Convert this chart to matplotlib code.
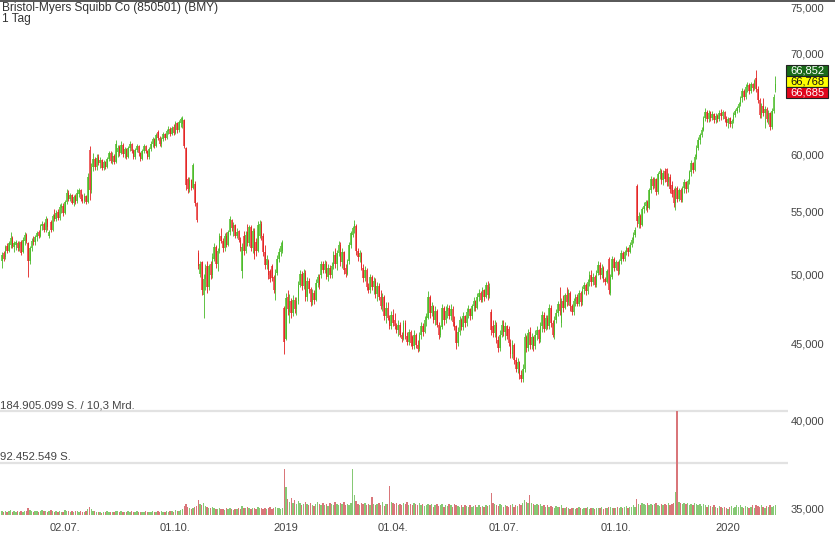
import matplotlib
matplotlib.use("Agg")
import matplotlib.pyplot as plt
from matplotlib.patches import Rectangle
from matplotlib.lines import Line2D

plt.rcParams['font.family'] = ['Liberation Sans', 'DejaVu Sans']

title = "Bristol-Myers Squibb Co (850501) (BMY)"
subtitle = "1 Tag"

opens = [51.0,51.6,51.3,52.2,51.8,52.3,52.8,52.1,52.3,52.4,52.0,52.5,51.7,52.6,53.1,52.4,51.0,52.0,52.7,52.5,
52.9,53.3,53.0,53.8,54.0,53.5,54.4,53.0,54.1,53.5,54.7,54.4,55.0,54.5,55.3,55.5,54.9,55.8,56.6,56.1,
56.4,55.7,56.3,55.9,56.5,56.8,56.1,55.9,56.3,55.8,60.4,56.8,58.9,59.6,58.9,59.8,59.2,59.5,58.8,59.3,
58.9,59.6,60.1,59.4,59.9,59.3,60.2,60.7,60.1,60.9,60.0,60.5,59.8,60.6,61.0,60.3,59.8,60.4,60.8,60.1,
59.6,60.3,60.8,60.3,59.8,60.5,61.0,61.4,60.8,62.1,61.5,61.0,61.4,61.9,61.5,62.2,62.4,61.9,62.6,62.0,
62.9,62.3,62.9,62.8,63.2,60.6,57.8,56.9,57.7,57.0,57.4,55.7,51.6,50.0,50.9,48.4,49.6,50.6,49.0,50.8,
49.9,51.2,52.1,50.8,51.8,53.0,52.6,52.0,53.0,52.3,53.3,54.3,53.6,53.9,53.0,53.4,52.7,50.2,53.0,51.8,
53.3,52.4,53.7,52.0,53.4,52.5,51.8,53.0,54.0,53.0,51.7,50.7,51.0,50.2,50.6,49.8,48.8,50.1,51.2,51.7,
51.8,47.5,45.3,48.3,47.2,48.0,47.1,48.1,47.4,48.0,49.2,50.0,49.1,50.1,48.3,49.5,48.9,47.9,48.6,48.1,
49.3,49.8,49.9,50.8,50.3,50.8,49.8,50.5,49.9,50.6,51.5,50.8,51.6,52.3,50.9,51.7,50.5,50.0,51.0,52.3,
53.1,53.6,53.8,51.8,51.3,51.6,50.5,49.7,50.3,49.0,48.8,49.8,49.0,49.5,48.5,49.1,48.3,47.6,48.3,46.9,
47.5,46.8,46.2,47.0,46.6,46.2,45.9,46.3,45.6,45.3,46.4,45.5,45.1,45.8,45.4,44.8,45.6,44.9,44.6,45.6,
46.2,45.8,46.6,46.8,48.3,47.1,47.6,46.6,47.3,46.3,45.6,46.1,47.5,46.6,47.3,47.5,46.9,47.4,46.5,46.2,
45.0,45.8,46.6,46.1,46.9,46.4,47.2,47.4,46.9,47.6,48.0,47.5,48.3,48.6,48.1,48.8,48.3,49.2,48.4,47.2,
46.2,45.7,46.3,45.2,44.7,45.6,46.3,45.8,46.2,46.0,45.0,44.3,44.9,43.9,43.3,43.7,42.9,42.6,43.3,45.4,
44.7,45.8,44.9,45.4,44.8,45.6,45.9,45.3,46.2,47.0,46.0,46.8,46.2,47.5,46.4,45.6,46.6,47.1,47.8,46.4,
48.0,47.5,48.4,47.9,48.6,47.6,47.2,48.0,48.3,47.8,48.6,47.9,48.9,49.2,48.7,49.4,49.9,49.4,49.8,49.2,
50.1,50.7,49.9,50.5,49.6,49.4,51.2,48.6,49.8,51.2,50.5,50.9,50.2,51.0,51.6,51.2,51.7,52.0,51.7,52.3,
52.7,53.1,57.2,54.0,54.6,53.9,55.2,55.5,55.8,55.3,56.8,57.8,57.2,57.8,56.7,58.2,58.5,57.7,58.5,58.7,
57.5,58.0,57.3,56.8,55.7,57.0,56.1,56.8,56.0,57.0,57.5,56.9,57.6,58.4,59.2,58.6,59.8,60.6,61.3,61.8,
62.3,63.4,64.0,63.3,64.0,63.4,63.8,63.2,63.6,63.3,63.9,63.6,64.0,63.3,62.9,63.4,62.8,63.1,63.7,64.1,
64.4,64.8,65.4,66.1,65.5,66.5,66.7,66.1,66.8,66.4,67.4,66.3,65.2,63.7,64.6,63.9,64.3,63.3,63.9,62.6,
64.1,66.2]

highs = [51.7,51.8,52.3,52.4,52.6,53.3,53.0,52.6,52.7,52.6,52.6,52.7,52.9,53.3,53.2,52.5,52.2,52.8,53.0,53.1,
53.4,53.5,54.0,54.2,54.1,54.6,54.5,53.5,54.3,54.8,55.2,55.1,55.2,55.6,55.7,55.7,56.0,56.9,56.8,56.6,
56.5,56.4,56.5,56.9,57.0,56.9,56.5,56.6,56.4,58.3,60.8,59.2,60.1,59.8,60.0,60.0,59.8,59.6,59.5,59.4,
59.8,60.3,60.3,60.2,60.0,61.3,60.9,60.9,61.2,61.1,60.7,60.6,60.8,61.2,61.1,60.5,60.6,61.0,60.9,60.2,
60.5,61.0,60.9,60.4,60.7,61.2,61.6,61.5,62.0,62.3,61.7,61.6,62.1,62.0,62.4,62.7,62.6,62.7,62.8,63.1,
63.0,63.2,63.5,63.6,63.3,60.7,58.0,58.0,57.8,59.2,57.6,55.8,51.9,51.0,51.0,50.0,50.8,51.0,50.8,51.0,
51.6,52.4,52.3,52.0,53.2,53.6,52.8,53.2,53.3,53.5,54.6,54.4,54.1,54.0,53.6,53.5,52.9,52.4,53.4,53.4,
54.0,53.9,53.9,53.6,53.6,52.8,54.2,54.3,54.2,53.2,52.3,51.5,51.2,50.4,50.8,49.9,50.4,51.5,52.0,52.5,
52.7,47.6,48.6,48.8,48.5,48.2,48.4,48.3,48.3,49.5,50.3,50.2,50.4,50.3,49.8,49.7,49.0,48.9,48.8,49.6,
50.0,50.0,51.0,51.0,51.1,51.0,50.8,50.7,50.9,51.8,52.0,51.9,52.6,52.5,52.0,51.8,50.8,51.2,52.5,53.4,
53.8,54.3,54.0,52.0,51.9,51.7,50.8,50.6,50.5,49.3,50.0,49.9,49.8,49.7,49.4,49.3,48.8,48.6,48.4,47.9,
47.9,47.0,47.3,47.4,47.1,46.4,46.6,46.5,45.8,46.6,46.6,45.8,46.0,45.9,45.6,45.9,45.7,45.2,45.8,46.5,
46.4,46.9,47.1,48.7,48.4,47.9,47.7,47.6,47.4,46.5,46.3,47.8,47.6,47.6,47.8,47.7,47.8,47.6,46.9,46.3,
46.1,46.9,46.8,47.2,47.0,47.5,47.7,47.5,47.8,48.3,48.1,48.6,48.9,48.7,49.0,48.9,49.4,49.5,49.3,47.4,
46.6,46.6,46.5,45.5,45.9,46.6,46.6,46.5,46.3,46.2,45.3,45.2,45.0,44.1,44.0,43.8,43.2,43.6,45.7,45.6,
46.0,46.1,45.7,45.5,45.9,46.2,46.0,46.5,47.3,47.2,47.0,47.0,47.8,47.7,46.6,46.9,47.4,48.0,49.0,48.2,
48.4,48.6,49.0,48.9,48.7,47.8,48.2,48.5,48.5,48.8,48.7,49.1,49.4,49.3,49.6,50.2,50.3,50.1,49.9,50.3,
51.0,50.9,50.8,50.6,49.8,50.4,51.3,50.0,51.4,51.3,51.1,51.0,51.2,51.9,51.8,51.9,52.2,52.1,52.5,52.9,
53.3,53.7,57.4,55.0,54.8,55.4,55.8,56.0,56.0,57.0,58.1,58.0,58.0,57.9,58.4,58.8,58.7,58.6,58.8,58.8,
58.3,58.2,57.6,57.0,57.2,57.2,57.0,57.0,57.2,57.8,57.6,57.8,58.6,59.5,59.3,60.0,60.9,61.6,62.0,62.6,
63.6,64.4,64.2,64.2,64.1,64.1,63.9,63.9,63.8,64.2,64.3,64.2,64.1,63.6,63.5,63.5,63.3,64.0,64.3,64.6,
65.0,65.6,66.4,66.3,66.8,67.0,66.9,67.0,66.9,67.3,68.2,66.6,65.4,64.9,65.4,64.6,64.5,64.2,64.0,64.4,
65.8,67.6]

lows = [50.5,51.0,51.2,51.6,51.7,52.0,52.0,51.7,51.9,51.8,51.8,51.5,51.6,52.3,52.4,49.8,50.8,51.8,52.3,52.3,
52.6,52.8,52.9,53.5,53.3,53.3,53.5,52.8,53.3,53.4,54.2,54.2,54.3,54.3,54.9,54.6,54.8,55.6,55.9,55.9,
55.6,55.5,55.6,55.7,56.2,55.9,55.7,55.7,55.6,55.7,56.0,56.6,58.5,58.6,58.6,59.0,58.8,58.6,58.6,58.7,
58.8,59.4,59.2,59.1,59.1,59.2,59.8,59.9,60.0,59.8,59.7,59.6,59.7,60.3,60.1,59.6,59.6,60.2,59.9,59.4,
59.5,60.1,60.1,59.6,59.6,60.3,60.7,60.6,60.7,61.3,60.8,60.7,61.2,61.3,61.4,61.9,61.7,61.8,61.8,61.9,
62.0,62.1,62.6,62.5,60.6,56.8,56.6,56.7,56.8,56.9,55.5,54.1,50.4,49.8,48.4,46.8,48.8,48.6,48.8,49.6,
49.7,51.0,50.5,50.2,51.6,52.4,51.7,51.8,52.1,52.2,53.1,53.4,53.0,52.8,52.8,52.5,51.8,49.7,51.5,51.6,
52.2,52.2,51.8,51.6,51.2,51.4,51.7,52.8,52.7,51.4,50.4,50.4,49.6,49.4,49.5,48.6,48.1,49.9,50.9,51.4,
51.6,44.3,45.2,47.0,46.4,46.8,46.9,47.1,47.0,47.8,49.0,48.8,48.9,48.0,48.0,48.6,47.6,47.7,47.8,48.0,
49.0,48.9,49.7,50.1,50.1,49.6,49.5,49.7,49.7,50.4,50.5,50.3,51.4,50.6,50.5,50.0,49.8,49.9,50.8,52.0,
52.9,53.2,51.5,51.0,50.9,50.3,49.4,49.5,48.8,48.6,48.6,48.8,48.5,48.2,48.0,48.1,47.4,47.3,46.6,46.4,
46.6,46.0,46.0,46.2,46.0,45.7,45.5,45.4,45.1,45.2,45.3,44.9,44.9,44.8,44.6,44.6,44.7,44.4,44.5,45.3,
45.5,45.7,46.2,46.7,46.8,46.9,46.4,46.3,46.1,45.3,45.4,46.0,46.3,46.4,46.8,46.7,46.6,46.2,45.9,44.6,
44.8,45.6,45.9,45.9,46.1,46.2,46.8,46.6,46.7,47.3,47.3,47.4,48.0,47.9,47.9,48.0,48.2,48.1,48.2,45.6,
45.4,45.4,45.0,44.4,44.5,45.4,45.5,45.2,45.3,44.8,44.0,44.0,43.6,43.1,43.0,42.6,42.4,42.4,43.1,44.4,
44.5,44.6,44.6,44.5,44.6,45.2,45.0,45.1,45.8,45.8,45.9,46.0,46.0,46.1,45.4,45.3,46.4,46.9,47.0,46.1,
47.2,47.4,47.6,47.7,47.3,47.0,47.0,47.6,47.6,47.6,47.6,47.7,48.5,48.4,48.5,49.1,49.1,49.2,49.0,49.0,
49.9,49.6,49.7,49.4,49.2,49.3,48.5,48.4,49.6,50.2,50.3,49.9,50.0,50.8,51.0,51.0,51.5,51.4,51.6,52.1,
52.4,52.9,53.7,53.6,53.6,53.8,54.9,55.1,55.0,55.2,56.6,56.9,57.0,56.4,56.5,57.8,57.4,57.3,57.5,57.2,
57.2,56.6,56.2,55.4,55.1,55.8,55.9,55.8,55.8,56.6,56.6,56.7,57.4,58.1,58.3,58.5,59.6,60.4,61.0,61.6,
62.2,63.1,63.0,63.0,63.1,63.2,62.9,62.9,63.0,63.1,63.2,63.3,63.0,62.7,62.5,62.6,62.5,62.9,63.5,63.9,
64.0,64.6,65.0,65.2,65.3,66.0,65.8,65.9,66.1,66.2,66.0,64.9,63.4,63.4,63.6,62.5,63.0,62.8,62.3,62.4,
63.9,66.0]

closes = [51.5,51.2,52.1,51.8,52.4,52.8,52.2,52.4,52.5,52.0,52.4,51.6,52.7,53.1,52.6,51.0,52.0,52.6,52.5,52.9,
53.2,53.0,53.8,54.0,53.5,54.4,53.7,53.3,53.5,54.6,54.4,54.9,54.5,55.4,55.5,54.9,55.8,56.6,56.1,56.4,
55.7,56.2,55.8,56.6,56.8,56.1,55.9,56.3,55.8,58.0,56.8,58.9,59.6,58.9,59.7,59.2,59.5,58.8,59.3,58.9,
59.6,60.1,59.4,59.9,59.3,61.0,60.6,60.1,60.9,60.0,60.5,59.8,60.6,61.0,60.3,59.8,60.4,60.8,60.1,59.6,
60.3,60.8,60.3,59.8,60.5,61.0,61.4,60.8,61.8,61.5,61.0,61.4,61.9,61.5,62.2,62.4,61.9,62.5,62.0,62.9,
62.3,63.0,63.3,63.4,60.8,57.3,56.9,57.7,57.0,59.0,55.7,54.3,50.6,50.8,48.8,49.6,50.5,49.0,50.6,49.9,
51.3,52.1,50.8,51.8,53.0,52.6,52.0,53.0,52.3,53.3,54.4,53.6,53.9,53.0,53.3,52.7,52.0,52.1,51.8,53.1,
52.4,53.7,52.0,53.4,51.5,51.8,53.9,54.0,53.0,51.7,50.7,51.2,49.9,49.6,49.7,48.8,50.1,51.2,51.7,52.2,
52.5,45.1,48.2,47.4,48.0,47.1,48.1,47.4,48.0,49.2,50.0,49.1,50.1,48.3,49.5,48.9,47.9,48.6,48.1,49.3,
49.8,49.2,50.8,50.3,50.8,49.8,50.5,49.9,50.6,51.5,50.8,51.6,52.3,50.9,51.7,50.3,50.0,51.0,52.3,53.2,
53.6,54.0,51.8,51.3,51.6,50.5,49.7,50.3,49.0,48.8,49.8,49.0,49.5,48.5,49.1,48.3,47.6,48.3,46.9,47.5,
46.8,46.2,47.0,46.4,46.2,45.9,46.3,45.6,45.3,46.4,45.5,45.1,45.8,45.0,44.8,45.6,44.9,44.6,45.6,46.2,
45.8,46.6,46.9,48.3,47.1,47.6,46.6,47.3,46.3,45.6,46.1,47.5,46.6,47.3,47.5,46.9,47.4,46.5,46.1,45.0,
45.8,46.6,46.1,46.9,46.4,47.2,47.4,46.9,47.6,48.0,47.5,48.3,48.6,48.1,48.8,48.3,49.2,48.4,49.0,45.9,
45.7,46.3,45.2,44.7,45.6,46.3,45.8,46.2,45.5,45.0,44.3,44.9,43.9,43.3,43.7,42.9,42.6,43.3,45.4,44.7,
45.7,44.9,45.4,44.8,45.6,45.9,45.3,46.2,47.0,46.0,46.8,46.2,47.5,46.4,45.6,46.6,47.1,47.8,47.3,48.0,
47.5,48.4,47.9,48.6,47.6,47.2,48.0,48.3,47.8,48.6,47.9,48.9,49.2,48.7,49.4,49.9,49.4,49.8,49.2,50.1,
50.7,49.9,50.5,49.6,49.4,50.2,48.8,49.8,51.2,50.5,50.9,50.2,51.0,51.6,51.2,51.7,52.0,51.7,52.3,52.7,
53.1,53.5,54.2,54.6,53.9,55.2,55.5,55.8,55.3,56.8,57.8,57.2,57.8,56.7,58.2,58.5,57.7,58.3,57.8,57.5,
58.0,56.9,56.5,55.7,56.9,56.1,56.8,56.0,57.0,57.5,56.9,57.6,58.4,59.2,58.6,59.8,60.6,61.3,61.8,62.3,
63.4,64.0,63.3,63.9,63.4,63.8,63.2,63.6,63.3,63.9,63.6,64.0,63.3,62.9,63.3,62.8,63.1,63.7,64.1,64.4,
64.8,65.4,66.1,65.5,66.5,66.7,66.1,66.8,66.4,67.1,66.3,65.2,63.7,64.6,63.9,64.3,63.3,63.9,62.6,64.1,
65.5,66.8]

volumes_mio = [7,6,8,6,7,9,6,7,6,7, 6,8,6,7,8,12,9,7,6,8, 7,6,8,9,7,8,6,7,9,8, 6,7,6,8,5,6,9,8,7,6,
7,6,8,7,6,7,5,6,8,11, 14,10,8,7,6,5,6,4,5,5, 7,6,5,6,5,8,7,6,7,6, 5,6,7,6,8,5,6,7,6,5,
6,5,7,6,5,6,7,5,6,8, 6,7,5,6,7,6,8,7,6,9, 8,7,9,11,16,20,14,12,10,13, 15,16,27,20,18,22,16,14,12,13,
14,12,11,10,12,11,10,9,12,11, 13,10,9,11,10,12,11,16,13,12, 14,12,11,13,12,10,14,13,12,11, 12,10,13,14,11,12,15,13,12,11,
13,82,50,28,24,30,22,26,20,25, 22,18,20,24,19,17,21,18,16,20, 24,19,17,21,18,20,16,22,19,17, 23,20,18,21,19,24,17,20,18,22,
82,36,25,20,18,22,19,21,17,20, 18,32,20,17,19,21,18,23,16,19, 20,52,24,21,19,22,18,20,17,21, 19,23,18,20,17,22,19,18,21,17,
19,16,18,20,17,19,15,18,20,16, 17,19,15,18,16,20,17,15,19,18, 16,14,17,15,18,16,14,17,15,16, 18,15,17,14,16,15,18,16,17,39,
22,20,18,16,19,17,15,18,16,14, 17,19,15,18,16,20,17,22,26,24, 21,36,22,19,18,20,17,19,16,18, 15,17,14,16,15,13,16,14,15,17,
13,12,14,13,11,12,13,11,12,14, 12,11,13,12,14,11,12,13,11,12, 13,12,14,11,12,13,15,14,12,13, 12,14,13,15,12,14,16,13,15,14,
17,15,28,20,18,22,19,17,21,18, 20,17,19,22,18,16,20,17,19,18, 21,17,19,22,41,185,24,22,20,21, 19,22,18,20,17,21,19,18,20,16,
19,17,15,18,16,14,17,15,13,16, 14,12,15,13,11,14,16,13,15,18, 14,17,15,13,16,14,12,15,17,13, 18,16,14,17,15,13,16,14,17,15,
16,18]

x_tick_pos = [36, 99, 162, 223, 286, 350, 414]
x_tick_labels = ["02.07.", "01.10.", "2019", "01.04.", "01.07.", "01.10.", "2020"]
price_ticks = [35, 40, 45, 50, 55, 60, 70, 75]
price_tick_labels = ["35,000", "40,000", "45,000", "50,000", "55,000", "60,000", "70,000", "75,000"]
vol_max = 184905099
vol_labels = ["184.905.099 S. / 10,3 Mrd.", "92.452.549 S."]
quote_values = ["66,852", "66,768", "66,685"]

W, H = 835, 541
GREEN_W, GREEN_B, GREEN_V = '#46b826', '#74cc55', '#86c975'
RED_W, RED_B, RED_V = '#e21c1c', '#ee6464', '#d9767a'
TXT = '#444444'

fig = plt.figure(figsize=(W / 100, H / 100), dpi=100)
fig.patch.set_facecolor('white')

ax = fig.add_axes([0, 26 / H, 788 / W, 514 / H])
ax.set_yscale('log')
ax.set_ylim(34.64, 75.80)
ax.set_xlim(-1.03, 448.2)

n = len(closes)
xs = list(range(n))
up = [c >= o for o, c in zip(opens, closes)]
wick_cols = [GREEN_W if u else RED_W for u in up]
body_cols = [GREEN_B if u else RED_B for u in up]
vol_cols = [GREEN_V if u else RED_V for u in up]
bottoms = [min(o, c) for o, c in zip(opens, closes)]
heights = [max(abs(c - o), 0.08) for o, c in zip(opens, closes)]

axv = ax.twinx()
axv.set_ylim(0, vol_max * 514 / 104)
axv.axhline(vol_max, color='#e2e2e2', lw=1.6, zorder=0)
axv.axhline(vol_max / 2, color='#e2e2e2', lw=1.6, zorder=0)
axv.bar(xs, [v * 1e6 for v in volumes_mio], width=0.8, color=vol_cols, linewidth=0, zorder=2)
axv.set_yticks([])
for s in axv.spines.values():
    s.set_visible(False)

ax.bar(xs, heights, bottom=bottoms, width=0.85, color=body_cols, linewidth=0, zorder=3)
ax.vlines(xs, lows, highs, colors=wick_cols, lw=0.6, zorder=4)

for s in ax.spines.values():
    s.set_visible(False)
ax.yaxis.tick_right()
ax.set_yticks(price_ticks)
ax.set_yticklabels(price_tick_labels)
ax.yaxis.set_minor_locator(matplotlib.ticker.NullLocator())
ax.tick_params(axis='y', length=0, pad=2, labelsize=8, labelcolor=TXT)
ax.set_xticks(x_tick_pos)
ax.set_xticklabels(x_tick_labels)
ax.tick_params(axis='x', length=0, pad=6, labelsize=8, labelcolor=TXT)
ax.set_zorder(axv.get_zorder() + 1)
ax.patch.set_visible(False)

fig.add_artist(Line2D([0, 1], [1 - 0.5 / H, 1 - 0.5 / H], color='#3a3a3a', lw=1.2))

fig.text(2 / W, 1 - 7.5 / H, title, fontsize=8.6, color='#333333', va='center', ha='left')
fig.text(2 / W, 1 - 19 / H, subtitle, fontsize=8.6, color='#333333', va='center', ha='left')

fig.text(0, 1 - 405 / H, vol_labels[0], fontsize=8.2, color=TXT, va='center', ha='left')
fig.text(0, 1 - 457 / H, vol_labels[1], fontsize=8.2, color=TXT, va='center', ha='left')

box_specs = [('#1a6b1a', 'white'), ('#ffff00', '#111111'), ('#e0061c', 'white')]
for k, (val, (fc, tc)) in enumerate(zip(quote_values, box_specs)):
    top = 65 + 11 * k
    rect = Rectangle((786 / W, 1 - (top + 11) / H), 42 / W, 11 / H, transform=fig.transFigure,
                     facecolor=fc, edgecolor='#222222', lw=0.8, zorder=10)
    fig.add_artist(rect)
    fig.text(807 / W, 1 - (top + 5.8) / H, val, fontsize=8, color=tc, ha='center', va='center', zorder=11)

fig.savefig('out.png', dpi=100, facecolor='white')
